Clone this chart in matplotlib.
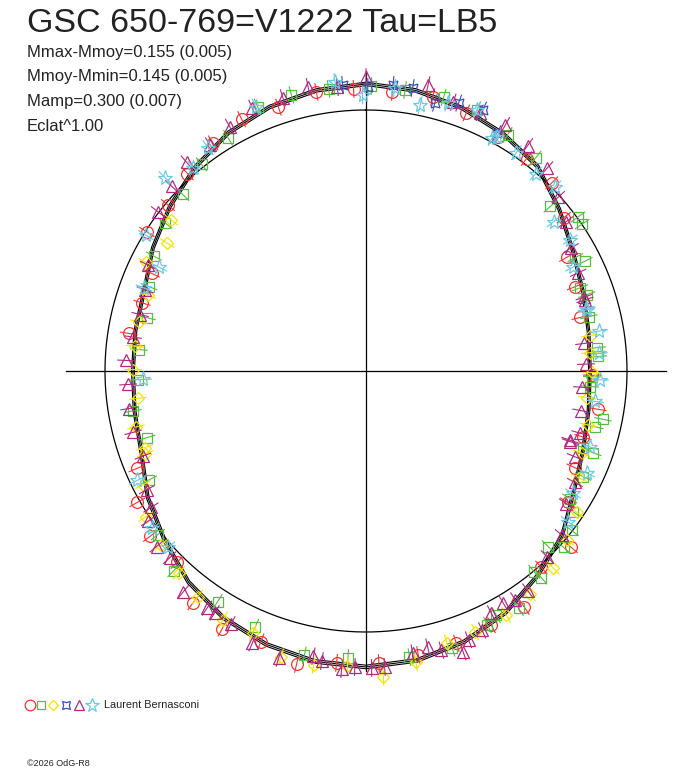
import numpy as np
import matplotlib
matplotlib.use("Agg")
import matplotlib.pyplot as plt

title = "GSC 650-769=V1222 Tau=LB5"
stats = ["Mmax-Mmoy=0.155 (0.005)", "Mmoy-Mmin=0.145 (0.005)",
         "Mamp=0.300 (0.007)", "Eclat^1.00"]
observer = "Laurent Bernasconi"
credit = "\u00a92026 OdG-R8"

# fitted curve, relative flux every 10 deg of phase (0 = top, clockwise)
fit_phase = np.arange(36) / 36
fit_flux = [1.100, 1.092, 1.073, 1.050, 1.023, 0.966, 0.916, 0.885, 0.866,
            0.858, 0.866, 0.885, 0.920, 0.981, 1.023, 1.069, 1.103, 1.126,
            1.134, 1.130, 1.115, 1.092, 1.057, 1.008, 0.966, 0.916, 0.900,
            0.893, 0.897, 0.904, 0.943, 0.981, 1.019, 1.054, 1.077, 1.092]
fit_err = 0.006

red_phase = [.949, .972, .993, .015, .038, .059, .082, .103, .124, .145,
             .168, .189, .211, .253, .276, .297, .319, .342, .363, .384,
             .406, .427, .449, .471, .493, .516, .537, .559, .581, .602,
             .624, .646, .667, .686, .775, .797, .818, .840, .861, .883,
             .906, .927]
red_flux = [1.065, 1.086, 1.082, 1.074, 1.080, 1.061, 1.029, 1.020, 1.013, 0.959,
            0.885, 0.864, 0.846, 0.866, 0.900, 0.869, 0.881, 0.922, 1.035, 1.009,
            1.090, 1.086, 1.099, 1.106, 1.120, 1.124, 1.154, 1.113, 1.130, 1.109,
            1.030, 1.041, 1.011, 0.954, 0.920, 0.897, 0.902, 0.994, 0.990, 1.020,
            1.052, 1.076]

green_phase = [.938, .958, .979, .003, .022, .044, .064, .086, .107, .134,
               .150, .155, .171, .176, .191, .197, .212, .234, .240, .254,
               .261, .282, .288, .304, .305, .322, .339, .345, .355, .366,
               .372, .389, .388, .409, .422, .429, .452, .476, .510, .534,
               .565, .591, .622, .644, .676, .703, .723, .744, .765, .788,
               .809, .829, .851, .872, .893, .915]
green_flux = [1.094, 1.096, 1.090, 1.092, 1.087, 1.090, 1.087, 1.055, 1.044, 0.947,
              1.004, 1.001, 0.912, 0.937, 0.879, 0.895, 0.879, 0.889, 0.891, 0.866,
              0.860, 0.927, 0.903, 0.881, 0.925, 0.925, 0.921, 0.960, 0.997, 1.015,
              0.970, 1.004, 1.038, 1.081, 1.061, 1.078, 1.112, 1.109, 1.102, 1.114,
              1.069, 1.051, 1.062, 1.015, 0.930, 0.877, 0.906, 0.874, 0.874, 0.863,
              0.892, 0.924, 0.956, 0.975, 1.012, 1.038]

yellow_phase = [.225, .237, .251, .269, .288, .308, .324, .344, .361, .379,
                .399, .417, .437, .454, .473, .491, .510, .528, .546, .565,
                .583, .602, .619, .638, .657, .675, .693, .697, .712, .731,
                .751, .767, .784, .803, .823, .841, .855]
yellow_flux = [0.869, 0.861, 0.866, 0.853, 0.875, 0.885, 0.913, 0.972, 1.006, 1.041,
               1.061, 1.078, 1.084, 1.087, 1.132, 1.174, 1.132, 1.144, 1.143, 1.093,
               1.100, 1.079, 1.055, 1.028, 1.012, 0.959, 0.903, 0.897, 0.907, 0.880,
               0.893, 0.890, 0.891, 0.885, 0.939, 0.907, 0.947]

blue_phase = [.987, .001, .015, .026, .040, .053, .067, .080]
blue_flux = [1.100, 1.088, 1.101, 1.099, 1.060, 1.086, 1.096, 1.041]

magenta_phase = [.919, .935, .953, .968, .984, .000, .034, .050, .066, .082,
                 .099, .116, .133, .148, .164, .181, .198, .200, .230, .245,
                 .262, .279, .295, .302, .303, .312, .328, .343, .361, .377,
                 .399, .408, .415, .424, .433, .442, .447, .458, .465, .474,
                 .490, .497, .506, .513, .524, .529, .547, .563, .578, .589,
                 .594, .610, .629, .639, .654, .660, .671, .692, .709, .725,
                 .741, .757, .773, .789, .806, .822, .854, .871, .887, .904]
magenta_flux = [1.072, 1.098, 1.094, 1.111, 1.093, 1.126, 1.121, 1.083, 1.081, 1.084,
                1.063, 1.042, 0.993, 0.956, 0.916, 0.896, 0.882, 0.882, 0.842, 0.843,
                0.830, 0.838, 0.854, 0.825, 0.828, 0.866, 0.907, 0.921, 0.979, 0.994,
                1.045, 1.047, 1.032, 1.045, 1.089, 1.102, 1.139, 1.108, 1.084, 1.096,
                1.136, 1.138, 1.135, 1.146, 1.124, 1.111, 1.150, 1.130, 1.099, 1.093,
                1.094, 1.099, 1.038, 1.047, 1.012, 0.976, 0.955, 0.915, 0.923, 0.919,
                0.913, 0.920, 0.902, 0.892, 0.902, 0.929, 1.003, 1.027, 1.054, 1.052]

cyan_phase = [.872, .888, .902, .937, .983, .998, .016, .032, .047, .064,
              .079, .081, .096, .113, .127, .143, .159, .176, .206, .207,
              .223, .238, .256, .271, .302, .319, .335, .352, .634, .649,
              .679, .744, .807, .824, .838]
cyan_flux = [1.068, 1.022, 1.047, 1.097, 1.114, 1.057, 1.090, 1.040, 1.074, 1.088,
             1.015, 1.027, 1.016, 0.997, 1.011, 0.919, 0.931, 0.888, 0.877, 0.878,
             0.906, 0.895, 0.897, 0.885, 0.906, 0.933, 0.921, 0.966, 1.015, 1.017,
             0.972, 0.855, 0.908, 0.886, 0.991]

point_err = 0.032

# (phase, flux, colour, marker, size)
series = [
    (red_phase, red_flux, "#f03434", "o", 8.5),
    (green_phase, green_flux, "#58bb44", "s", 7),
    (yellow_phase, yellow_flux, "#f2e400", "D", 6),
    (blue_phase, blue_flux, "#3a4fb0", (4, 1, 45), 9),
    (magenta_phase, magenta_flux, "#ae2a7e", "^", 8),
    (cyan_phase, cyan_flux, "#6cc8e2", "*", 11),
]

SCALE = 261.0          # pixels for flux = 1
CX, CY = 366, 371      # pixel centre of the diagram

fig = plt.figure(figsize=(6.88, 7.68), dpi=100)
ax = fig.add_axes([0, 0, 1, 1])
ax.axis("off")
ax.set_xlim(-CX / SCALE, (688 - CX) / SCALE)
ax.set_ylim(-(768 - CY) / SCALE, CY / SCALE)


def polar_xy(phase, flux):
    a = 2 * np.pi * np.asarray(phase)
    f = np.asarray(flux)
    return f * np.sin(a), f * np.cos(a)


# reference circle and cross
t = np.linspace(0, 1, 400)
ax.plot(*polar_xy(t, np.ones_like(t)), color="black", lw=0.9)
half = 300 / SCALE
ax.plot([-half, half], [0, 0], color="black", lw=0.9)
ax.plot([0, 0], [-half, half], color="black", lw=0.9)

# fit and its error band
ph = np.append(fit_phase, 1.0)
ff = np.append(fit_flux, fit_flux[0])
for k in (-1, 0, 1):
    ax.plot(*polar_xy(ph, ff * (1 + k * fit_err)), color="black", lw=0.8)

# observations with radial error bars
for phase, flux, col, mk, ms in series:
    f = np.asarray(flux)
    xi, yi = polar_xy(phase, f - point_err)
    xo, yo = polar_xy(phase, f + point_err)
    segx = np.column_stack([xi, xo, np.full_like(xi, np.nan)]).ravel()
    segy = np.column_stack([yi, yo, np.full_like(yi, np.nan)]).ravel()
    ax.plot(segx, segy, color=col, lw=0.8)
    x, y = polar_xy(phase, f)
    ax.plot(x, y, ls="none", marker=mk, ms=ms, mfc="none", mec=col, mew=0.9)

# texts and legend in pixel coordinates
ov = fig.add_axes([0, 0, 1, 1])
ov.axis("off")
ov.patch.set_alpha(0)
ov.set_xlim(0, 688)
ov.set_ylim(768, 0)

font = "Liberation Sans"
ov.text(27, 23, title, fontsize=24.5, family=font, color="#222222", va="center")
for i, s in enumerate(stats):
    ov.text(27, 52 + i * 24.7, s, fontsize=12, family=font, color="#222222", va="center")

leg_x = [30, 41, 53, 66, 79, 92]
for lx, (_, _, col, mk, ms) in zip(leg_x, series):
    ov.plot(lx, 705, ls="none", marker=mk, ms=ms * 0.9, mfc="none", mec=col, mew=0.9)
ov.text(104, 705, observer, fontsize=7.8, family=font, color="#222222", va="center")
ov.text(27, 763, credit, fontsize=6.5, family=font, color="#222222", va="center")

fig.savefig("out.png", dpi=100)
